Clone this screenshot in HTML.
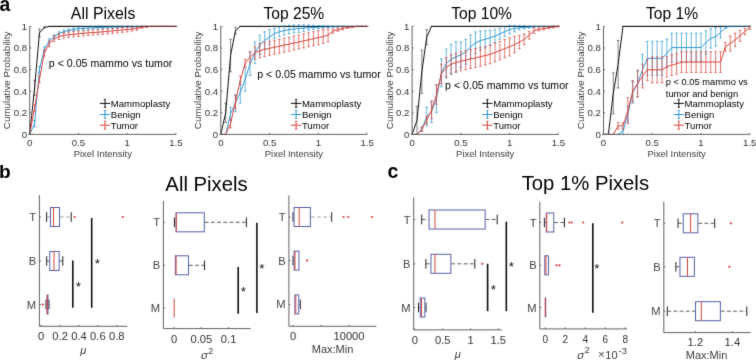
<!DOCTYPE html>
<html><head><meta charset="utf-8"><style>
html,body{margin:0;padding:0;background:#fff;}
svg{display:block;font-family:"Liberation Sans", sans-serif;}
</style></head><body>
<svg width="756" height="360" viewBox="0 0 756 360">
<defs><filter id="bl" x="0" y="0" width="756" height="360" filterUnits="userSpaceOnUse"><feConvolveMatrix order="3" kernelMatrix="0.0094 0.0780 0.0094 0.0780 0.6504 0.0780 0.0094 0.0780 0.0094" edgeMode="none" preserveAlpha="false"/></filter></defs>
<rect width="756" height="360" fill="#fff"/>
<g filter="url(#bl)">
<text x="103.1" y="18.8" font-size="15.9" text-anchor="middle" fill="#000" >All Pixels</text>
<path d="M28.4,134.4 h2.6 M34.58,80.4 V95.52 M33.28,80.4 h2.6 M33.28,95.52 h2.6 M39.45,29.1 V36.66 M38.15,29.1 h2.6 M38.15,36.66 h2.6 M44.33,26.94 V28.02 M43.03,26.94 h2.6 M43.03,28.02 h2.6 M47.9,26.4 h2.6 M52.78,26.4 h2.6 M57.65,26.4 h2.6 M62.53,26.4 h2.6 M67.4,26.4 h2.6 M72.28,26.4 h2.6 M77.15,26.4 h2.6 M82.03,26.4 h2.6 M86.9,26.4 h2.6 M91.78,26.4 h2.6 M96.65,26.4 h2.6 M101.53,26.4 h2.6 M106.4,26.4 h2.6 M111.28,26.4 h2.6 M116.15,26.4 h2.6 M121.03,26.4 h2.6 M125.9,26.4 h2.6 M130.77,26.4 h2.6 M135.65,26.4 h2.6 M140.52,26.4 h2.6 M145.4,26.4 h2.6 M150.27,26.4 h2.6 M155.15,26.4 h2.6 M160.02,26.4 h2.6 M164.9,26.4 h2.6 M169.77,26.4 h2.6 M174.65,26.4 h2.6" stroke="#111111" stroke-width="0.9" fill="none" opacity="0.55"/>
<path d="M29.7,134.4 L34.58,87.96 L39.45,32.88 L44.33,27.48 L49.2,26.4 L54.08,26.4 L58.95,26.4 L63.83,26.4 L68.7,26.4 L73.58,26.4 L78.45,26.4 L83.33,26.4 L88.2,26.4 L93.08,26.4 L97.95,26.4 L102.83,26.4 L107.7,26.4 L112.58,26.4 L117.45,26.4 L122.33,26.4 L127.2,26.4 L132.07,26.4 L136.95,26.4 L141.82,26.4 L146.7,26.4 L151.57,26.4 L156.45,26.4 L161.32,26.4 L166.2,26.4 L171.07,26.4 L175.95,26.4" stroke="#111111" stroke-width="1.0" fill="none" stroke-linejoin="round"/>
<path d="M28.4,134.4 h2.6 M34.58,120.36 V126.84 M33.28,120.36 h2.6 M33.28,126.84 h2.6 M39.45,66.36 V72.84 M38.15,66.36 h2.6 M38.15,72.84 h2.6 M44.33,46.92 V52.32 M43.03,46.92 h2.6 M43.03,52.32 h2.6 M49.2,38.82 V43.14 M47.9,38.82 h2.6 M47.9,43.14 h2.6 M54.08,34.77 V38.55 M52.78,34.77 h2.6 M52.78,38.55 h2.6 M58.95,31.8 V35.04 M57.65,31.8 h2.6 M57.65,35.04 h2.6 M63.83,30.02 V33.15 M62.53,30.02 h2.6 M62.53,33.15 h2.6 M68.7,28.88 V31.91 M67.4,28.88 h2.6 M67.4,31.91 h2.6 M73.58,27.97 V30.88 M72.28,27.97 h2.6 M72.28,30.88 h2.6 M78.45,27.37 V30.18 M77.15,27.37 h2.6 M77.15,30.18 h2.6 M83.33,27.05 V29.75 M82.03,27.05 h2.6 M82.03,29.75 h2.6 M88.2,26.72 V29.32 M86.9,26.72 h2.6 M86.9,29.32 h2.6 M93.08,26.59 V29.02 M91.78,26.59 h2.6 M91.78,29.02 h2.6 M97.95,26.45 V28.72 M96.65,26.45 h2.6 M96.65,28.72 h2.6 M102.83,26.32 V28.43 M101.53,26.32 h2.6 M101.53,28.43 h2.6 M107.7,26.18 V28.13 M106.4,26.18 h2.6 M106.4,28.13 h2.6 M112.58,26.16 V27.94 M111.28,26.16 h2.6 M111.28,27.94 h2.6 M117.45,26.13 V27.75 M116.15,26.13 h2.6 M116.15,27.75 h2.6 M122.33,26.1 V27.56 M121.03,26.1 h2.6 M121.03,27.56 h2.6 M127.2,26.08 V27.37 M125.9,26.08 h2.6 M125.9,27.37 h2.6 M132.07,26.18 V27.16 M130.77,26.18 h2.6 M130.77,27.16 h2.6 M136.95,26.29 V26.94 M135.65,26.29 h2.6 M135.65,26.94 h2.6 M141.82,26.35 V26.67 M140.52,26.35 h2.6 M140.52,26.67 h2.6 M145.4,26.4 h2.6 M150.27,26.4 h2.6 M155.15,26.4 h2.6 M160.02,26.4 h2.6 M164.9,26.4 h2.6 M169.77,26.4 h2.6 M174.65,26.4 h2.6" stroke="#2f98cf" stroke-width="0.9" fill="none" opacity="0.8"/>
<path d="M29.7,134.4 L34.58,123.6 L39.45,69.6 L44.33,49.62 L49.2,40.98 L54.08,36.66 L58.95,33.42 L63.83,31.58 L68.7,30.4 L73.58,29.42 L78.45,28.78 L83.33,28.4 L88.2,28.02 L93.08,27.8 L97.95,27.59 L102.83,27.37 L107.7,27.16 L112.58,27.05 L117.45,26.94 L122.33,26.83 L127.2,26.72 L132.07,26.67 L136.95,26.62 L141.82,26.51 L146.7,26.4 L151.57,26.4 L156.45,26.4 L161.32,26.4 L166.2,26.4 L171.07,26.4 L175.95,26.4" stroke="#2f98cf" stroke-width="1.0" fill="none" stroke-linejoin="round"/>
<path d="M28.4,134.4 h2.6 M34.58,104.7 V111.18 M33.28,104.7 h2.6 M33.28,111.18 h2.6 M39.45,76.08 V82.56 M38.15,76.08 h2.6 M38.15,82.56 h2.6 M44.33,49.62 V56.1 M43.03,49.62 h2.6 M43.03,56.1 h2.6 M49.2,40.76 V46.6 M47.9,40.76 h2.6 M47.9,46.6 h2.6 M54.08,35.96 V41.68 M52.78,35.96 h2.6 M52.78,41.68 h2.6 M58.95,33.85 V39.47 M57.65,33.85 h2.6 M57.65,39.47 h2.6 M63.83,32.59 V38.14 M62.53,32.59 h2.6 M62.53,38.14 h2.6 M68.7,31.97 V37.46 M67.4,31.97 h2.6 M67.4,37.46 h2.6 M73.58,31.46 V36.89 M72.28,31.46 h2.6 M72.28,36.89 h2.6 M78.45,31.06 V36.43 M77.15,31.06 h2.6 M77.15,36.43 h2.6 M83.33,30.66 V35.97 M82.03,30.66 h2.6 M82.03,35.97 h2.6 M88.2,30.26 V35.5 M86.9,30.26 h2.6 M86.9,35.5 h2.6 M93.08,29.96 V35.15 M91.78,29.96 h2.6 M91.78,35.15 h2.6 M97.95,29.67 V34.79 M96.65,29.67 h2.6 M96.65,34.79 h2.6 M102.83,29.27 V34.33 M101.53,29.27 h2.6 M101.53,34.33 h2.6 M107.7,28.87 V33.87 M106.4,28.87 h2.6 M106.4,33.87 h2.6 M112.58,28.47 V33.4 M111.28,28.47 h2.6 M111.28,33.4 h2.6 M117.45,27.96 V32.83 M116.15,27.96 h2.6 M116.15,32.83 h2.6 M122.33,27.56 V32.37 M121.03,27.56 h2.6 M121.03,32.37 h2.6 M127.2,27.16 V31.91 M125.9,27.16 h2.6 M125.9,31.91 h2.6 M132.07,26.99 V30.99 M130.77,26.99 h2.6 M130.77,30.99 h2.6 M136.95,26.94 V30.18 M135.65,26.94 h2.6 M135.65,30.18 h2.6 M141.82,26.08 V28.24 M140.52,26.08 h2.6 M140.52,28.24 h2.6 M146.7,26.18 V27.26 M145.4,26.18 h2.6 M145.4,27.26 h2.6 M150.27,26.4 h2.6 M155.15,26.4 h2.6 M160.02,26.4 h2.6 M164.9,26.4 h2.6 M169.77,26.4 h2.6 M174.65,26.4 h2.6" stroke="#d9443c" stroke-width="0.9" fill="none" opacity="0.8"/>
<path d="M29.7,134.4 L34.58,107.94 L39.45,79.32 L44.33,52.86 L49.2,43.68 L54.08,38.82 L58.95,36.66 L63.83,35.36 L68.7,34.72 L73.58,34.18 L78.45,33.74 L83.33,33.31 L88.2,32.88 L93.08,32.56 L97.95,32.23 L102.83,31.8 L107.7,31.37 L112.58,30.94 L117.45,30.4 L122.33,29.96 L127.2,29.53 L132.07,28.99 L136.95,28.56 L141.82,27.16 L146.7,26.72 L151.57,26.4 L156.45,26.4 L161.32,26.4 L166.2,26.4 L171.07,26.4 L175.95,26.4" stroke="#d9443c" stroke-width="1.0" fill="none" stroke-linejoin="round"/>
<line x1="49.2" y1="26.4" x2="175.95" y2="26.4" stroke="#000" stroke-width="1" opacity="0.45"/>
<line x1="29.7" y1="26.4" x2="29.7" y2="134.4" stroke="#636363" stroke-width="1" />
<line x1="29.7" y1="134.4" x2="175.95" y2="134.4" stroke="#636363" stroke-width="1" />
<line x1="29.7" y1="134.4" x2="31.2" y2="134.4" stroke="#636363" stroke-width="1" />
<text x="27" y="137.8" font-size="9.6" text-anchor="end" fill="#333333" >0</text>
<line x1="29.7" y1="112.8" x2="31.2" y2="112.8" stroke="#636363" stroke-width="1" />
<text x="27" y="116.2" font-size="9.6" text-anchor="end" fill="#333333" >0.2</text>
<line x1="29.7" y1="91.2" x2="31.2" y2="91.2" stroke="#636363" stroke-width="1" />
<text x="27" y="94.6" font-size="9.6" text-anchor="end" fill="#333333" >0.4</text>
<line x1="29.7" y1="69.6" x2="31.2" y2="69.6" stroke="#636363" stroke-width="1" />
<text x="27" y="73" font-size="9.6" text-anchor="end" fill="#333333" >0.6</text>
<line x1="29.7" y1="48" x2="31.2" y2="48" stroke="#636363" stroke-width="1" />
<text x="27" y="51.4" font-size="9.6" text-anchor="end" fill="#333333" >0.8</text>
<line x1="29.7" y1="26.4" x2="31.2" y2="26.4" stroke="#636363" stroke-width="1" />
<text x="27" y="29.8" font-size="9.6" text-anchor="end" fill="#333333" >1</text>
<line x1="29.7" y1="134.4" x2="29.7" y2="132.9" stroke="#636363" stroke-width="1" />
<text x="29.7" y="146.2" font-size="9.6" text-anchor="middle" fill="#333333" >0</text>
<line x1="78.45" y1="134.4" x2="78.45" y2="132.9" stroke="#636363" stroke-width="1" />
<text x="78.45" y="146.2" font-size="9.6" text-anchor="middle" fill="#333333" >0.5</text>
<line x1="127.2" y1="134.4" x2="127.2" y2="132.9" stroke="#636363" stroke-width="1" />
<text x="127.2" y="146.2" font-size="9.6" text-anchor="middle" fill="#333333" >1</text>
<line x1="175.95" y1="134.4" x2="175.95" y2="132.9" stroke="#636363" stroke-width="1" />
<text x="175.95" y="146.2" font-size="9.6" text-anchor="middle" fill="#333333" >1.5</text>
<text x="102.83" y="157.4" font-size="9.45" text-anchor="middle" fill="#3c3c3c" >Pixel Intensity</text>
<text transform="translate(10.2,80.45) rotate(-90)" font-size="9.8" text-anchor="middle" fill="#3c3c3c">Cumulative Probability</text>
<text x="48.8" y="67" font-size="10.62" fill="#000">p &lt; 0.05 mammo vs tumor</text>
<line x1="99.8" y1="103.4" x2="110.2" y2="103.4" stroke="#111111" stroke-width="1" />
<line x1="105" y1="99.4" x2="105" y2="107.4" stroke="#111111" stroke-width="1" />
<line x1="103.8" y1="99.4" x2="106.2" y2="99.4" stroke="#111111" stroke-width="0.8" />
<line x1="103.8" y1="107.4" x2="106.2" y2="107.4" stroke="#111111" stroke-width="0.8" />
<text x="110.8" y="106.8" font-size="9.55" text-anchor="start" fill="#000" >Mammoplasty</text>
<line x1="99.8" y1="114.5" x2="110.2" y2="114.5" stroke="#2f98cf" stroke-width="1" />
<line x1="105" y1="110.5" x2="105" y2="118.5" stroke="#2f98cf" stroke-width="1" />
<line x1="103.8" y1="110.5" x2="106.2" y2="110.5" stroke="#2f98cf" stroke-width="0.8" />
<line x1="103.8" y1="118.5" x2="106.2" y2="118.5" stroke="#2f98cf" stroke-width="0.8" />
<text x="110.8" y="117.9" font-size="9.55" text-anchor="start" fill="#000" >Benign</text>
<line x1="99.8" y1="125.2" x2="110.2" y2="125.2" stroke="#d9443c" stroke-width="1" />
<line x1="105" y1="121.2" x2="105" y2="129.2" stroke="#d9443c" stroke-width="1" />
<line x1="103.8" y1="121.2" x2="106.2" y2="121.2" stroke="#d9443c" stroke-width="0.8" />
<line x1="103.8" y1="129.2" x2="106.2" y2="129.2" stroke="#d9443c" stroke-width="0.8" />
<text x="110.8" y="128.6" font-size="9.55" text-anchor="start" fill="#000" >Tumor</text>
<text x="293.85" y="18.8" font-size="15.65" text-anchor="middle" fill="#000" >Top 25%</text>
<path d="M219.5,134.4 h2.6 M225.68,103.08 V122.52 M224.38,103.08 h2.6 M224.38,122.52 h2.6 M230.55,39.36 V71.76 M229.25,39.36 h2.6 M229.25,71.76 h2.6 M235.43,27.48 V33.96 M234.12,27.48 h2.6 M234.12,33.96 h2.6 M239,26.4 h2.6 M243.88,26.4 h2.6 M248.75,26.4 h2.6 M253.62,26.4 h2.6 M258.5,26.4 h2.6 M263.38,26.4 h2.6 M268.25,26.4 h2.6 M273.12,26.4 h2.6 M278,26.4 h2.6 M282.88,26.4 h2.6 M287.75,26.4 h2.6 M292.62,26.4 h2.6 M297.5,26.4 h2.6 M302.38,26.4 h2.6 M307.25,26.4 h2.6 M312.12,26.4 h2.6 M317,26.4 h2.6 M321.88,26.4 h2.6 M326.75,26.4 h2.6 M331.62,26.4 h2.6 M336.5,26.4 h2.6 M341.38,26.4 h2.6 M346.25,26.4 h2.6 M351.12,26.4 h2.6 M356,26.4 h2.6 M360.88,26.4 h2.6 M365.75,26.4 h2.6" stroke="#111111" stroke-width="0.9" fill="none" opacity="0.55"/>
<path d="M220.8,134.4 L225.68,112.8 L230.55,55.56 L235.43,30.72 L240.3,26.4 L245.18,26.4 L250.05,26.4 L254.93,26.4 L259.8,26.4 L264.68,26.4 L269.55,26.4 L274.43,26.4 L279.3,26.4 L284.18,26.4 L289.05,26.4 L293.93,26.4 L298.8,26.4 L303.68,26.4 L308.55,26.4 L313.43,26.4 L318.3,26.4 L323.18,26.4 L328.05,26.4 L332.93,26.4 L337.8,26.4 L342.68,26.4 L347.55,26.4 L352.43,26.4 L357.3,26.4 L362.18,26.4 L367.05,26.4" stroke="#111111" stroke-width="1.0" fill="none" stroke-linejoin="round"/>
<path d="M219.5,134.4 h2.6 M224.38,134.4 h2.6 M230.55,107.4 V120.36 M229.25,107.4 h2.6 M229.25,120.36 h2.6 M235.43,94.44 V111.72 M234.12,94.44 h2.6 M234.12,111.72 h2.6 M240.3,81.48 V103.08 M239,81.48 h2.6 M239,103.08 h2.6 M245.18,67.44 V91.2 M243.88,67.44 h2.6 M243.88,91.2 h2.6 M250.05,51.78 V75.54 M248.75,51.78 h2.6 M248.75,75.54 h2.6 M254.93,42.06 V63.66 M253.62,42.06 h2.6 M253.62,63.66 h2.6 M259.8,35.04 V54.48 M258.5,35.04 h2.6 M258.5,54.48 h2.6 M264.68,31.8 V49.08 M263.38,31.8 h2.6 M263.38,49.08 h2.6 M269.55,29.64 V44.76 M268.25,29.64 h2.6 M268.25,44.76 h2.6 M274.43,28.56 V38.28 M273.12,28.56 h2.6 M273.12,38.28 h2.6 M279.3,26.94 V36.66 M278,26.94 h2.6 M278,36.66 h2.6 M284.18,25.91 V35.09 M282.88,25.91 h2.6 M282.88,35.09 h2.6 M289.05,25.32 V33.96 M287.75,25.32 h2.6 M287.75,33.96 h2.6 M293.93,24.94 V33.04 M292.62,24.94 h2.6 M292.62,33.04 h2.6 M298.8,24.78 V32.34 M297.5,24.78 h2.6 M297.5,32.34 h2.6 M303.68,24.89 V31.37 M302.38,24.89 h2.6 M302.38,31.37 h2.6 M308.55,25 V30.4 M307.25,25 h2.6 M307.25,30.4 h2.6 M313.43,25.32 V29.64 M312.12,25.32 h2.6 M312.12,29.64 h2.6 M318.3,25.54 V28.78 M317,25.54 h2.6 M317,28.78 h2.6 M323.18,25.7 V28.18 M321.88,25.7 h2.6 M321.88,28.18 h2.6 M328.05,25.86 V27.59 M326.75,25.86 h2.6 M326.75,27.59 h2.6 M332.93,26.02 V27.21 M331.62,26.02 h2.6 M331.62,27.21 h2.6 M337.8,26.18 V26.83 M336.5,26.18 h2.6 M336.5,26.83 h2.6 M341.38,26.4 h2.6 M346.25,26.4 h2.6 M351.12,26.4 h2.6 M356,26.4 h2.6 M360.88,26.4 h2.6 M365.75,26.4 h2.6" stroke="#2f98cf" stroke-width="0.9" fill="none" opacity="0.8"/>
<path d="M220.8,134.4 L225.68,134.4 L230.55,113.88 L235.43,103.08 L240.3,92.28 L245.18,79.32 L250.05,63.66 L254.93,52.86 L259.8,44.76 L264.68,40.44 L269.55,37.2 L274.43,33.42 L279.3,31.8 L284.18,30.5 L289.05,29.64 L293.93,28.99 L298.8,28.56 L303.68,28.13 L308.55,27.7 L313.43,27.48 L318.3,27.16 L323.18,26.94 L328.05,26.72 L332.93,26.62 L337.8,26.51 L342.68,26.4 L347.55,26.4 L352.43,26.4 L357.3,26.4 L362.18,26.4 L367.05,26.4" stroke="#2f98cf" stroke-width="1.0" fill="none" stroke-linejoin="round"/>
<path d="M219.5,134.4 h2.6 M224.38,134.4 h2.6 M230.55,119.28 V127.92 M229.25,119.28 h2.6 M229.25,127.92 h2.6 M235.43,95.52 V108.48 M234.12,95.52 h2.6 M234.12,108.48 h2.6 M240.3,76.08 V84.72 M239,76.08 h2.6 M239,84.72 h2.6 M245.18,59.34 V66.9 M243.88,59.34 h2.6 M243.88,66.9 h2.6 M250.05,51.78 V62.58 M248.75,51.78 h2.6 M248.75,62.58 h2.6 M254.93,46.65 V59.07 M253.62,46.65 h2.6 M253.62,59.07 h2.6 M259.8,43.68 V57.72 M258.5,43.68 h2.6 M258.5,57.72 h2.6 M264.68,42.38 V56.42 M263.38,42.38 h2.6 M263.38,56.42 h2.6 M269.55,41.3 V55.34 M268.25,41.3 h2.6 M268.25,55.34 h2.6 M274.43,40.22 V54.26 M273.12,40.22 h2.6 M273.12,54.26 h2.6 M279.3,39.25 V53.29 M278,39.25 h2.6 M278,53.29 h2.6 M284.18,38.17 V52.21 M282.88,38.17 h2.6 M282.88,52.21 h2.6 M289.05,37.09 V51.13 M287.75,37.09 h2.6 M287.75,51.13 h2.6 M293.93,36.01 V50.05 M292.62,36.01 h2.6 M292.62,50.05 h2.6 M298.8,34.93 V48.97 M297.5,34.93 h2.6 M297.5,48.97 h2.6 M303.68,33.85 V47.89 M302.38,33.85 h2.6 M302.38,47.89 h2.6 M308.55,32.77 V46.81 M307.25,32.77 h2.6 M307.25,46.81 h2.6 M313.43,31.69 V45.73 M312.12,31.69 h2.6 M312.12,45.73 h2.6 M318.3,30.61 V44.65 M317,30.61 h2.6 M317,44.65 h2.6 M323.18,29.8 V43.3 M321.88,29.8 h2.6 M321.88,43.3 h2.6 M328.05,28.88 V41.84 M326.75,28.88 h2.6 M326.75,41.84 h2.6 M332.93,28.88 V33.2 M331.62,28.88 h2.6 M331.62,33.2 h2.6 M337.8,27.91 V31.37 M336.5,27.91 h2.6 M336.5,31.37 h2.6 M342.68,27.26 V29.86 M341.38,27.26 h2.6 M341.38,29.86 h2.6 M347.55,26.62 V28.34 M346.25,26.62 h2.6 M346.25,28.34 h2.6 M352.43,26.51 V27.37 M351.12,26.51 h2.6 M351.12,27.37 h2.6 M356,26.4 h2.6 M360.88,26.4 h2.6 M365.75,26.4 h2.6" stroke="#d9443c" stroke-width="0.9" fill="none" opacity="0.8"/>
<path d="M220.8,134.4 L225.68,134.4 L230.55,123.6 L235.43,102 L240.3,80.4 L245.18,63.12 L250.05,57.18 L254.93,52.86 L259.8,50.7 L264.68,49.4 L269.55,48.32 L274.43,47.24 L279.3,46.27 L284.18,45.19 L289.05,44.11 L293.93,43.03 L298.8,41.95 L303.68,40.87 L308.55,39.79 L313.43,38.71 L318.3,37.63 L323.18,36.55 L328.05,35.36 L332.93,31.04 L337.8,29.64 L342.68,28.56 L347.55,27.48 L352.43,26.94 L357.3,26.4 L362.18,26.4 L367.05,26.4" stroke="#d9443c" stroke-width="1.0" fill="none" stroke-linejoin="round"/>
<line x1="240.3" y1="26.4" x2="367.05" y2="26.4" stroke="#000" stroke-width="1" opacity="0.45"/>
<line x1="220.8" y1="26.4" x2="220.8" y2="134.4" stroke="#636363" stroke-width="1" />
<line x1="220.8" y1="134.4" x2="367.05" y2="134.4" stroke="#636363" stroke-width="1" />
<line x1="220.8" y1="134.4" x2="222.3" y2="134.4" stroke="#636363" stroke-width="1" />
<text x="218.1" y="137.8" font-size="9.6" text-anchor="end" fill="#333333" >0</text>
<line x1="220.8" y1="112.8" x2="222.3" y2="112.8" stroke="#636363" stroke-width="1" />
<text x="218.1" y="116.2" font-size="9.6" text-anchor="end" fill="#333333" >0.2</text>
<line x1="220.8" y1="91.2" x2="222.3" y2="91.2" stroke="#636363" stroke-width="1" />
<text x="218.1" y="94.6" font-size="9.6" text-anchor="end" fill="#333333" >0.4</text>
<line x1="220.8" y1="69.6" x2="222.3" y2="69.6" stroke="#636363" stroke-width="1" />
<text x="218.1" y="73" font-size="9.6" text-anchor="end" fill="#333333" >0.6</text>
<line x1="220.8" y1="48" x2="222.3" y2="48" stroke="#636363" stroke-width="1" />
<text x="218.1" y="51.4" font-size="9.6" text-anchor="end" fill="#333333" >0.8</text>
<line x1="220.8" y1="26.4" x2="222.3" y2="26.4" stroke="#636363" stroke-width="1" />
<text x="218.1" y="29.8" font-size="9.6" text-anchor="end" fill="#333333" >1</text>
<line x1="220.8" y1="134.4" x2="220.8" y2="132.9" stroke="#636363" stroke-width="1" />
<text x="220.8" y="146.2" font-size="9.6" text-anchor="middle" fill="#333333" >0</text>
<line x1="269.55" y1="134.4" x2="269.55" y2="132.9" stroke="#636363" stroke-width="1" />
<text x="269.55" y="146.2" font-size="9.6" text-anchor="middle" fill="#333333" >0.5</text>
<line x1="318.3" y1="134.4" x2="318.3" y2="132.9" stroke="#636363" stroke-width="1" />
<text x="318.3" y="146.2" font-size="9.6" text-anchor="middle" fill="#333333" >1</text>
<line x1="367.05" y1="134.4" x2="367.05" y2="132.9" stroke="#636363" stroke-width="1" />
<text x="367.05" y="146.2" font-size="9.6" text-anchor="middle" fill="#333333" >1.5</text>
<text x="293.93" y="157.4" font-size="9.45" text-anchor="middle" fill="#3c3c3c" >Pixel Intensity</text>
<text transform="translate(201.3,80.45) rotate(-90)" font-size="9.8" text-anchor="middle" fill="#3c3c3c">Cumulative Probability</text>
<text x="257.2" y="77.7" font-size="10.62" fill="#000">p &lt; 0.05 mammo vs tumor</text>
<line x1="290.9" y1="103.4" x2="301.3" y2="103.4" stroke="#111111" stroke-width="1" />
<line x1="296.1" y1="99.4" x2="296.1" y2="107.4" stroke="#111111" stroke-width="1" />
<line x1="294.9" y1="99.4" x2="297.3" y2="99.4" stroke="#111111" stroke-width="0.8" />
<line x1="294.9" y1="107.4" x2="297.3" y2="107.4" stroke="#111111" stroke-width="0.8" />
<text x="301.9" y="106.8" font-size="9.55" text-anchor="start" fill="#000" >Mammoplasty</text>
<line x1="290.9" y1="114.5" x2="301.3" y2="114.5" stroke="#2f98cf" stroke-width="1" />
<line x1="296.1" y1="110.5" x2="296.1" y2="118.5" stroke="#2f98cf" stroke-width="1" />
<line x1="294.9" y1="110.5" x2="297.3" y2="110.5" stroke="#2f98cf" stroke-width="0.8" />
<line x1="294.9" y1="118.5" x2="297.3" y2="118.5" stroke="#2f98cf" stroke-width="0.8" />
<text x="301.9" y="117.9" font-size="9.55" text-anchor="start" fill="#000" >Benign</text>
<line x1="290.9" y1="125.2" x2="301.3" y2="125.2" stroke="#d9443c" stroke-width="1" />
<line x1="296.1" y1="121.2" x2="296.1" y2="129.2" stroke="#d9443c" stroke-width="1" />
<line x1="294.9" y1="121.2" x2="297.3" y2="121.2" stroke="#d9443c" stroke-width="0.8" />
<line x1="294.9" y1="129.2" x2="297.3" y2="129.2" stroke="#d9443c" stroke-width="0.8" />
<text x="301.9" y="128.6" font-size="9.55" text-anchor="start" fill="#000" >Tumor</text>
<text x="481.65" y="18.8" font-size="15.6" text-anchor="middle" fill="#000" >Top 10%</text>
<path d="M410.8,134.4 h2.6 M416.98,106.32 V134.4 M415.68,106.32 h2.6 M415.68,134.4 h2.6 M421.85,50.16 V93.36 M420.55,50.16 h2.6 M420.55,93.36 h2.6 M426.73,29.64 V44.76 M425.43,29.64 h2.6 M425.43,44.76 h2.6 M430.3,26.4 h2.6 M435.18,26.4 h2.6 M440.05,26.4 h2.6 M444.93,26.4 h2.6 M449.8,26.4 h2.6 M454.68,26.4 h2.6 M459.55,26.4 h2.6 M464.43,26.4 h2.6 M469.3,26.4 h2.6 M474.18,26.4 h2.6 M479.05,26.4 h2.6 M483.93,26.4 h2.6 M488.8,26.4 h2.6 M493.68,26.4 h2.6 M498.55,26.4 h2.6 M503.43,26.4 h2.6 M508.3,26.4 h2.6 M513.18,26.4 h2.6 M518.05,26.4 h2.6 M522.93,26.4 h2.6 M527.8,26.4 h2.6 M532.68,26.4 h2.6 M537.55,26.4 h2.6 M542.43,26.4 h2.6 M547.3,26.4 h2.6 M552.18,26.4 h2.6 M557.05,26.4 h2.6" stroke="#111111" stroke-width="0.9" fill="none" opacity="0.55"/>
<path d="M412.1,134.4 L416.98,120.36 L421.85,71.76 L426.73,37.2 L431.6,26.4 L436.48,26.4 L441.35,26.4 L446.23,26.4 L451.1,26.4 L455.98,26.4 L460.85,26.4 L465.73,26.4 L470.6,26.4 L475.48,26.4 L480.35,26.4 L485.23,26.4 L490.1,26.4 L494.98,26.4 L499.85,26.4 L504.73,26.4 L509.6,26.4 L514.48,26.4 L519.35,26.4 L524.23,26.4 L529.1,26.4 L533.98,26.4 L538.85,26.4 L543.73,26.4 L548.6,26.4 L553.48,26.4 L558.35,26.4" stroke="#111111" stroke-width="1.0" fill="none" stroke-linejoin="round"/>
<path d="M410.8,134.4 h2.6 M415.68,134.4 h2.6 M421.85,126.84 V131.16 M420.55,126.84 h2.6 M420.55,131.16 h2.6 M426.73,107.4 V125.76 M425.43,107.4 h2.6 M425.43,125.76 h2.6 M431.6,100.92 V122.52 M430.3,100.92 h2.6 M430.3,122.52 h2.6 M436.48,84.72 V112.8 M435.18,84.72 h2.6 M435.18,112.8 h2.6 M441.35,58.8 V86.88 M440.05,58.8 h2.6 M440.05,86.88 h2.6 M446.23,49.04 V77.84 M444.93,49.04 h2.6 M444.93,77.84 h2.6 M451.1,44.58 V74.1 M449.8,44.58 h2.6 M449.8,74.1 h2.6 M455.98,41.63 V71.87 M454.68,41.63 h2.6 M454.68,71.87 h2.6 M460.85,42.06 V67.98 M459.55,42.06 h2.6 M459.55,67.98 h2.6 M465.73,39.36 V64.2 M464.43,39.36 h2.6 M464.43,64.2 h2.6 M470.6,34.93 V58.69 M469.3,34.93 h2.6 M469.3,58.69 h2.6 M475.48,31.91 V53.51 M474.18,31.91 h2.6 M474.18,53.51 h2.6 M480.35,30.94 V50.38 M479.05,30.94 h2.6 M479.05,50.38 h2.6 M485.23,30.61 V47.89 M483.93,30.61 h2.6 M483.93,47.89 h2.6 M490.1,30.18 V45.3 M488.8,30.18 h2.6 M488.8,45.3 h2.6 M494.98,29.64 V42.6 M493.68,29.64 h2.6 M493.68,42.6 h2.6 M499.85,28.45 V39.25 M498.55,28.45 h2.6 M498.55,39.25 h2.6 M504.73,26.72 V36.44 M503.43,26.72 h2.6 M503.43,36.44 h2.6 M509.6,25.32 V33.96 M508.3,25.32 h2.6 M508.3,33.96 h2.6 M514.48,25.32 V31.8 M513.18,25.32 h2.6 M513.18,31.8 h2.6 M519.35,25.54 V29.86 M518.05,25.54 h2.6 M518.05,29.86 h2.6 M524.23,25.75 V28.99 M522.93,25.75 h2.6 M522.93,28.99 h2.6 M529.1,25.97 V28.13 M527.8,25.97 h2.6 M527.8,28.13 h2.6 M533.98,26.18 V27.26 M532.68,26.18 h2.6 M532.68,27.26 h2.6 M537.55,26.4 h2.6 M542.43,26.4 h2.6 M547.3,26.4 h2.6 M552.18,26.4 h2.6 M557.05,26.4 h2.6" stroke="#2f98cf" stroke-width="0.9" fill="none" opacity="0.8"/>
<path d="M412.1,134.4 L416.98,134.4 L421.85,129 L426.73,116.58 L431.6,111.72 L436.48,98.76 L441.35,72.84 L446.23,63.44 L451.1,59.34 L455.98,56.75 L460.85,55.02 L465.73,51.78 L470.6,46.81 L475.48,42.71 L480.35,40.66 L485.23,39.25 L490.1,37.74 L494.98,36.12 L499.85,33.85 L504.73,31.58 L509.6,29.64 L514.48,28.56 L519.35,27.7 L524.23,27.37 L529.1,27.05 L533.98,26.72 L538.85,26.4 L543.73,26.4 L548.6,26.4 L553.48,26.4 L558.35,26.4" stroke="#2f98cf" stroke-width="1.0" fill="none" stroke-linejoin="round"/>
<path d="M410.8,134.4 h2.6 M415.68,134.4 h2.6 M421.85,127.16 V131.48 M420.55,127.16 h2.6 M420.55,131.48 h2.6 M426.73,116.26 V123.82 M425.43,116.26 h2.6 M425.43,123.82 h2.6 M431.6,101.46 V118.74 M430.3,101.46 h2.6 M430.3,118.74 h2.6 M436.48,84.72 V104.16 M435.18,84.72 h2.6 M435.18,104.16 h2.6 M441.35,64.2 V83.64 M440.05,64.2 h2.6 M440.05,83.64 h2.6 M446.23,57.76 V77.12 M444.93,57.76 h2.6 M444.93,77.12 h2.6 M451.1,54.67 V73.95 M449.8,54.67 h2.6 M449.8,73.95 h2.6 M455.98,52.98 V72.18 M454.68,52.98 h2.6 M454.68,72.18 h2.6 M460.85,51.72 V70.85 M459.55,51.72 h2.6 M459.55,70.85 h2.6 M465.73,50.57 V69.62 M464.43,50.57 h2.6 M464.43,69.62 h2.6 M470.6,49.53 V68.5 M469.3,49.53 h2.6 M469.3,68.5 h2.6 M475.48,48.49 V67.39 M474.18,48.49 h2.6 M474.18,67.39 h2.6 M480.35,47.34 V66.16 M479.05,47.34 h2.6 M479.05,66.16 h2.6 M485.23,46.19 V64.93 M483.93,46.19 h2.6 M483.93,64.93 h2.6 M490.1,45.15 V63.81 M488.8,45.15 h2.6 M488.8,63.81 h2.6 M494.98,43.24 V61.83 M493.68,43.24 h2.6 M493.68,61.83 h2.6 M499.85,41.33 V59.85 M498.55,41.33 h2.6 M498.55,59.85 h2.6 M504.73,39.43 V57.87 M503.43,39.43 h2.6 M503.43,57.87 h2.6 M509.6,37.63 V55.99 M508.3,37.63 h2.6 M508.3,55.99 h2.6 M514.48,36.44 V52.64 M513.18,36.44 h2.6 M513.18,52.64 h2.6 M519.35,35.69 V48.65 M518.05,35.69 h2.6 M518.05,48.65 h2.6 M524.23,33.85 V44.65 M522.93,33.85 h2.6 M522.93,44.65 h2.6 M529.1,31.58 V39.14 M527.8,31.58 h2.6 M527.8,39.14 h2.6 M533.98,28.02 V33.42 M532.68,28.02 h2.6 M532.68,33.42 h2.6 M538.85,27.7 V30.94 M537.55,27.7 h2.6 M537.55,30.94 h2.6 M543.73,27.21 V29.91 M542.43,27.21 h2.6 M542.43,29.91 h2.6 M548.6,26.62 V28.78 M547.3,26.62 h2.6 M547.3,28.78 h2.6 M553.48,26.24 V27.86 M552.18,26.24 h2.6 M552.18,27.86 h2.6 M558.35,25.86 V26.94 M557.05,25.86 h2.6 M557.05,26.94 h2.6" stroke="#d9443c" stroke-width="0.9" fill="none" opacity="0.8"/>
<path d="M412.1,134.4 L416.98,134.4 L421.85,129.32 L426.73,120.04 L431.6,110.1 L436.48,94.44 L441.35,73.92 L446.23,67.44 L451.1,64.31 L455.98,62.58 L460.85,61.28 L465.73,60.1 L470.6,59.02 L475.48,57.94 L480.35,56.75 L485.23,55.56 L490.1,54.48 L494.98,52.54 L499.85,50.59 L504.73,48.65 L509.6,46.81 L514.48,44.54 L519.35,42.17 L524.23,39.25 L529.1,35.36 L533.98,30.72 L538.85,29.32 L543.73,28.56 L548.6,27.7 L553.48,27.05 L558.35,26.4" stroke="#d9443c" stroke-width="1.0" fill="none" stroke-linejoin="round"/>
<line x1="431.6" y1="26.4" x2="558.35" y2="26.4" stroke="#000" stroke-width="1" opacity="0.45"/>
<line x1="412.1" y1="26.4" x2="412.1" y2="134.4" stroke="#636363" stroke-width="1" />
<line x1="412.1" y1="134.4" x2="558.35" y2="134.4" stroke="#636363" stroke-width="1" />
<line x1="412.1" y1="134.4" x2="413.6" y2="134.4" stroke="#636363" stroke-width="1" />
<text x="409.4" y="137.8" font-size="9.6" text-anchor="end" fill="#333333" >0</text>
<line x1="412.1" y1="112.8" x2="413.6" y2="112.8" stroke="#636363" stroke-width="1" />
<text x="409.4" y="116.2" font-size="9.6" text-anchor="end" fill="#333333" >0.2</text>
<line x1="412.1" y1="91.2" x2="413.6" y2="91.2" stroke="#636363" stroke-width="1" />
<text x="409.4" y="94.6" font-size="9.6" text-anchor="end" fill="#333333" >0.4</text>
<line x1="412.1" y1="69.6" x2="413.6" y2="69.6" stroke="#636363" stroke-width="1" />
<text x="409.4" y="73" font-size="9.6" text-anchor="end" fill="#333333" >0.6</text>
<line x1="412.1" y1="48" x2="413.6" y2="48" stroke="#636363" stroke-width="1" />
<text x="409.4" y="51.4" font-size="9.6" text-anchor="end" fill="#333333" >0.8</text>
<line x1="412.1" y1="26.4" x2="413.6" y2="26.4" stroke="#636363" stroke-width="1" />
<text x="409.4" y="29.8" font-size="9.6" text-anchor="end" fill="#333333" >1</text>
<line x1="412.1" y1="134.4" x2="412.1" y2="132.9" stroke="#636363" stroke-width="1" />
<text x="412.1" y="146.2" font-size="9.6" text-anchor="middle" fill="#333333" >0</text>
<line x1="460.85" y1="134.4" x2="460.85" y2="132.9" stroke="#636363" stroke-width="1" />
<text x="460.85" y="146.2" font-size="9.6" text-anchor="middle" fill="#333333" >0.5</text>
<line x1="509.6" y1="134.4" x2="509.6" y2="132.9" stroke="#636363" stroke-width="1" />
<text x="509.6" y="146.2" font-size="9.6" text-anchor="middle" fill="#333333" >1</text>
<line x1="558.35" y1="134.4" x2="558.35" y2="132.9" stroke="#636363" stroke-width="1" />
<text x="558.35" y="146.2" font-size="9.6" text-anchor="middle" fill="#333333" >1.5</text>
<text x="485.23" y="157.4" font-size="9.45" text-anchor="middle" fill="#3c3c3c" >Pixel Intensity</text>
<text transform="translate(392.6,80.45) rotate(-90)" font-size="9.8" text-anchor="middle" fill="#3c3c3c">Cumulative Probability</text>
<text x="445.05" y="88.9" font-size="10.62" fill="#000">p &lt; 0.05 mammo vs tumor</text>
<line x1="482.2" y1="103.4" x2="492.6" y2="103.4" stroke="#111111" stroke-width="1" />
<line x1="487.4" y1="99.4" x2="487.4" y2="107.4" stroke="#111111" stroke-width="1" />
<line x1="486.2" y1="99.4" x2="488.6" y2="99.4" stroke="#111111" stroke-width="0.8" />
<line x1="486.2" y1="107.4" x2="488.6" y2="107.4" stroke="#111111" stroke-width="0.8" />
<text x="493.2" y="106.8" font-size="9.55" text-anchor="start" fill="#000" >Mammoplasty</text>
<line x1="482.2" y1="114.5" x2="492.6" y2="114.5" stroke="#2f98cf" stroke-width="1" />
<line x1="487.4" y1="110.5" x2="487.4" y2="118.5" stroke="#2f98cf" stroke-width="1" />
<line x1="486.2" y1="110.5" x2="488.6" y2="110.5" stroke="#2f98cf" stroke-width="0.8" />
<line x1="486.2" y1="118.5" x2="488.6" y2="118.5" stroke="#2f98cf" stroke-width="0.8" />
<text x="493.2" y="117.9" font-size="9.55" text-anchor="start" fill="#000" >Benign</text>
<line x1="482.2" y1="125.2" x2="492.6" y2="125.2" stroke="#d9443c" stroke-width="1" />
<line x1="487.4" y1="121.2" x2="487.4" y2="129.2" stroke="#d9443c" stroke-width="1" />
<line x1="486.2" y1="121.2" x2="488.6" y2="121.2" stroke="#d9443c" stroke-width="0.8" />
<line x1="486.2" y1="129.2" x2="488.6" y2="129.2" stroke="#d9443c" stroke-width="0.8" />
<text x="493.2" y="128.6" font-size="9.55" text-anchor="start" fill="#000" >Tumor</text>
<text x="672.1" y="18.8" font-size="15.6" text-anchor="middle" fill="#000" >Top 1%</text>
<path d="M602.2,134.4 h2.6 M607.08,134.4 h2.6 M613.25,72.84 V113.88 M611.95,72.84 h2.6 M611.95,113.88 h2.6 M618.12,40.44 V87.96 M616.83,40.44 h2.6 M616.83,87.96 h2.6 M621.7,26.4 h2.6 M626.58,26.4 h2.6 M631.45,26.4 h2.6 M636.33,26.4 h2.6 M641.2,26.4 h2.6 M646.08,26.4 h2.6 M650.95,26.4 h2.6 M655.83,26.4 h2.6 M660.7,26.4 h2.6 M665.58,26.4 h2.6 M670.45,26.4 h2.6 M675.33,26.4 h2.6 M680.2,26.4 h2.6 M685.08,26.4 h2.6 M689.95,26.4 h2.6 M694.83,26.4 h2.6 M699.7,26.4 h2.6 M704.58,26.4 h2.6 M709.45,26.4 h2.6 M714.33,26.4 h2.6 M719.2,26.4 h2.6 M724.08,26.4 h2.6 M728.95,26.4 h2.6 M733.83,26.4 h2.6 M738.7,26.4 h2.6 M743.58,26.4 h2.6 M748.45,26.4 h2.6" stroke="#111111" stroke-width="0.9" fill="none" opacity="0.55"/>
<path d="M603.5,134.4 L608.38,134.4 L613.25,93.36 L618.12,64.2 L623,26.4 L627.88,26.4 L632.75,26.4 L637.62,26.4 L642.5,26.4 L647.38,26.4 L652.25,26.4 L657.12,26.4 L662,26.4 L666.88,26.4 L671.75,26.4 L676.62,26.4 L681.5,26.4 L686.38,26.4 L691.25,26.4 L696.12,26.4 L701,26.4 L705.88,26.4 L710.75,26.4 L715.62,26.4 L720.5,26.4 L725.38,26.4 L730.25,26.4 L735.12,26.4 L740,26.4 L744.88,26.4 L749.75,26.4" stroke="#111111" stroke-width="1.0" fill="none" stroke-linejoin="round"/>
<path d="M602.2,134.4 h2.6 M607.08,134.4 h2.6 M611.95,134.4 h2.6 M616.83,134.4 h2.6 M623,127.92 V134.4 M621.7,127.92 h2.6 M621.7,134.4 h2.6 M627.88,105.78 V121.98 M626.58,105.78 h2.6 M626.58,121.98 h2.6 M632.75,81.48 V103.08 M631.45,81.48 h2.6 M631.45,103.08 h2.6 M637.62,70.68 V96.6 M636.33,70.68 h2.6 M636.33,96.6 h2.6 M642.5,54.48 V84.72 M641.2,54.48 h2.6 M641.2,84.72 h2.6 M647.38,41.3 V75.43 M646.08,41.3 h2.6 M646.08,75.43 h2.6 M652.25,41.3 V75.43 M650.95,41.3 h2.6 M650.95,75.43 h2.6 M657.12,41.3 V75.43 M655.83,41.3 h2.6 M655.83,75.43 h2.6 M662,41.3 V75.43 M660.7,41.3 h2.6 M660.7,75.43 h2.6 M666.88,39.04 V67.76 M665.58,39.04 h2.6 M665.58,67.76 h2.6 M671.75,33.2 V61.93 M670.45,33.2 h2.6 M670.45,61.93 h2.6 M676.62,33.2 V61.93 M675.33,33.2 h2.6 M675.33,61.93 h2.6 M681.5,33.2 V61.93 M680.2,33.2 h2.6 M680.2,61.93 h2.6 M686.38,33.2 V61.93 M685.08,33.2 h2.6 M685.08,61.93 h2.6 M691.25,33.2 V61.93 M689.95,33.2 h2.6 M689.95,61.93 h2.6 M696.12,33.2 V61.93 M694.83,33.2 h2.6 M694.83,61.93 h2.6 M701,33.2 V61.93 M699.7,33.2 h2.6 M699.7,61.93 h2.6 M705.88,30.72 V54.48 M704.58,30.72 h2.6 M704.58,54.48 h2.6 M710.75,28.67 V48.11 M709.45,28.67 h2.6 M709.45,48.11 h2.6 M715.62,27.59 V45.95 M714.33,27.59 h2.6 M714.33,45.95 h2.6 M720.5,27.16 V37.96 M719.2,27.16 h2.6 M719.2,37.96 h2.6 M725.38,26.4 V28.56 M724.08,26.4 h2.6 M724.08,28.56 h2.6 M728.95,26.4 h2.6 M733.83,26.4 h2.6 M738.7,26.4 h2.6 M743.58,26.4 h2.6 M748.45,26.4 h2.6" stroke="#2f98cf" stroke-width="0.9" fill="none" opacity="0.8"/>
<path d="M603.5,134.4 L608.38,134.4 L613.25,134.4 L618.12,134.4 L623,131.16 L627.88,113.88 L632.75,92.28 L637.62,83.64 L642.5,69.6 L647.38,58.37 L652.25,58.37 L657.12,58.37 L662,58.37 L666.88,53.4 L671.75,47.57 L676.62,47.57 L681.5,47.57 L686.38,47.57 L691.25,47.57 L696.12,47.57 L701,47.57 L705.88,42.6 L710.75,38.39 L715.62,36.77 L720.5,32.56 L725.38,27.48 L730.25,26.4 L735.12,26.4 L740,26.4 L744.88,26.4 L749.75,26.4" stroke="#2f98cf" stroke-width="1.0" fill="none" stroke-linejoin="round"/>
<path d="M602.2,134.4 h2.6 M607.08,134.4 h2.6 M611.95,134.4 h2.6 M618.12,122.63 V129.11 M616.83,122.63 h2.6 M616.83,129.11 h2.6 M623,122.63 V129.11 M621.7,122.63 h2.6 M621.7,129.11 h2.6 M627.88,97.68 V123.6 M626.58,97.68 h2.6 M626.58,123.6 h2.6 M632.75,80.4 V102 M631.45,80.4 h2.6 M631.45,102 h2.6 M637.62,70.14 V97.14 M636.33,70.14 h2.6 M636.33,97.14 h2.6 M642.5,64.2 V87.96 M641.2,64.2 h2.6 M641.2,87.96 h2.6 M647.38,59.02 V80.62 M646.08,59.02 h2.6 M646.08,80.62 h2.6 M652.25,56.86 V82.78 M650.95,56.86 h2.6 M650.95,82.78 h2.6 M657.12,56.86 V82.78 M655.83,56.86 h2.6 M655.83,82.78 h2.6 M662,56.86 V82.78 M660.7,56.86 h2.6 M660.7,82.78 h2.6 M666.88,56.42 V77.16 M665.58,56.42 h2.6 M665.58,77.16 h2.6 M671.75,54.7 V75.43 M670.45,54.7 h2.6 M670.45,75.43 h2.6 M676.62,53.4 V74.14 M675.33,53.4 h2.6 M675.33,74.14 h2.6 M681.5,51.67 V72.41 M680.2,51.67 h2.6 M680.2,72.41 h2.6 M686.38,51.67 V72.41 M685.08,51.67 h2.6 M685.08,72.41 h2.6 M691.25,51.67 V72.41 M689.95,51.67 h2.6 M689.95,72.41 h2.6 M696.12,51.67 V72.41 M694.83,51.67 h2.6 M694.83,72.41 h2.6 M701,51.67 V72.41 M699.7,51.67 h2.6 M699.7,72.41 h2.6 M705.88,51.67 V72.41 M704.58,51.67 h2.6 M704.58,72.41 h2.6 M710.75,51.67 V72.41 M709.45,51.67 h2.6 M709.45,72.41 h2.6 M715.62,51.67 V72.41 M714.33,51.67 h2.6 M714.33,72.41 h2.6 M720.5,51.67 V72.41 M719.2,51.67 h2.6 M719.2,72.41 h2.6 M725.38,42.49 V51.13 M724.08,42.49 h2.6 M724.08,51.13 h2.6 M730.25,35.9 V51.02 M728.95,35.9 h2.6 M728.95,51.02 h2.6 M735.12,33.1 V46.49 M733.83,33.1 h2.6 M733.83,46.49 h2.6 M740,30.5 V41.3 M738.7,30.5 h2.6 M738.7,41.3 h2.6 M744.88,28.24 V34.72 M743.58,28.24 h2.6 M743.58,34.72 h2.6 M749.75,25.97 V29.21 M748.45,25.97 h2.6 M748.45,29.21 h2.6" stroke="#d9443c" stroke-width="0.9" fill="none" opacity="0.8"/>
<path d="M603.5,134.4 L608.38,134.4 L613.25,134.4 L618.12,125.87 L623,125.87 L627.88,110.64 L632.75,91.2 L637.62,83.64 L642.5,76.08 L647.38,69.82 L652.25,69.82 L657.12,69.82 L662,69.82 L666.88,66.79 L671.75,65.06 L676.62,63.77 L681.5,62.04 L686.38,62.04 L691.25,62.04 L696.12,62.04 L701,62.04 L705.88,62.04 L710.75,62.04 L715.62,62.04 L720.5,62.04 L725.38,46.81 L730.25,43.46 L735.12,39.79 L740,35.9 L744.88,31.48 L749.75,27.59" stroke="#d9443c" stroke-width="1.0" fill="none" stroke-linejoin="round"/>
<line x1="623" y1="26.4" x2="749.75" y2="26.4" stroke="#000" stroke-width="1" opacity="0.45"/>
<line x1="603.5" y1="26.4" x2="603.5" y2="134.4" stroke="#636363" stroke-width="1" />
<line x1="603.5" y1="134.4" x2="749.75" y2="134.4" stroke="#636363" stroke-width="1" />
<line x1="603.5" y1="134.4" x2="605" y2="134.4" stroke="#636363" stroke-width="1" />
<text x="600.8" y="137.8" font-size="9.6" text-anchor="end" fill="#333333" >0</text>
<line x1="603.5" y1="112.8" x2="605" y2="112.8" stroke="#636363" stroke-width="1" />
<text x="600.8" y="116.2" font-size="9.6" text-anchor="end" fill="#333333" >0.2</text>
<line x1="603.5" y1="91.2" x2="605" y2="91.2" stroke="#636363" stroke-width="1" />
<text x="600.8" y="94.6" font-size="9.6" text-anchor="end" fill="#333333" >0.4</text>
<line x1="603.5" y1="69.6" x2="605" y2="69.6" stroke="#636363" stroke-width="1" />
<text x="600.8" y="73" font-size="9.6" text-anchor="end" fill="#333333" >0.6</text>
<line x1="603.5" y1="48" x2="605" y2="48" stroke="#636363" stroke-width="1" />
<text x="600.8" y="51.4" font-size="9.6" text-anchor="end" fill="#333333" >0.8</text>
<line x1="603.5" y1="26.4" x2="605" y2="26.4" stroke="#636363" stroke-width="1" />
<text x="600.8" y="29.8" font-size="9.6" text-anchor="end" fill="#333333" >1</text>
<line x1="603.5" y1="134.4" x2="603.5" y2="132.9" stroke="#636363" stroke-width="1" />
<text x="603.5" y="146.2" font-size="9.6" text-anchor="middle" fill="#333333" >0</text>
<line x1="652.25" y1="134.4" x2="652.25" y2="132.9" stroke="#636363" stroke-width="1" />
<text x="652.25" y="146.2" font-size="9.6" text-anchor="middle" fill="#333333" >0.5</text>
<line x1="701" y1="134.4" x2="701" y2="132.9" stroke="#636363" stroke-width="1" />
<text x="701" y="146.2" font-size="9.6" text-anchor="middle" fill="#333333" >1</text>
<line x1="749.75" y1="134.4" x2="749.75" y2="132.9" stroke="#636363" stroke-width="1" />
<text x="749.75" y="146.2" font-size="9.6" text-anchor="middle" fill="#333333" >1.5</text>
<text x="676.62" y="157.4" font-size="9.45" text-anchor="middle" fill="#3c3c3c" >Pixel Intensity</text>
<text transform="translate(584,80.45) rotate(-90)" font-size="9.8" text-anchor="middle" fill="#3c3c3c">Cumulative Probability</text>
<text x="665.8" y="85.3" font-size="9.3" fill="#000">p &lt; 0.05 mammo vs</text>
<text x="665.8" y="96.7" font-size="9.3" fill="#000">tumor and benign</text>
<line x1="673.6" y1="103.4" x2="684" y2="103.4" stroke="#111111" stroke-width="1" />
<line x1="678.8" y1="99.4" x2="678.8" y2="107.4" stroke="#111111" stroke-width="1" />
<line x1="677.6" y1="99.4" x2="680" y2="99.4" stroke="#111111" stroke-width="0.8" />
<line x1="677.6" y1="107.4" x2="680" y2="107.4" stroke="#111111" stroke-width="0.8" />
<text x="684.6" y="106.8" font-size="9.55" text-anchor="start" fill="#000" >Mammoplasty</text>
<line x1="673.6" y1="114.5" x2="684" y2="114.5" stroke="#2f98cf" stroke-width="1" />
<line x1="678.8" y1="110.5" x2="678.8" y2="118.5" stroke="#2f98cf" stroke-width="1" />
<line x1="677.6" y1="110.5" x2="680" y2="110.5" stroke="#2f98cf" stroke-width="0.8" />
<line x1="677.6" y1="118.5" x2="680" y2="118.5" stroke="#2f98cf" stroke-width="0.8" />
<text x="684.6" y="117.9" font-size="9.55" text-anchor="start" fill="#000" >Benign</text>
<line x1="673.6" y1="125.2" x2="684" y2="125.2" stroke="#d9443c" stroke-width="1" />
<line x1="678.8" y1="121.2" x2="678.8" y2="129.2" stroke="#d9443c" stroke-width="1" />
<line x1="677.6" y1="121.2" x2="680" y2="121.2" stroke="#d9443c" stroke-width="0.8" />
<line x1="677.6" y1="129.2" x2="680" y2="129.2" stroke="#d9443c" stroke-width="0.8" />
<text x="684.6" y="128.6" font-size="9.55" text-anchor="start" fill="#000" >Tumor</text>
<text x="-0.5" y="10.8" font-size="19.3" font-weight="bold" fill="#000">a</text>
<text x="-1.0" y="177.7" font-size="19.1" font-weight="bold" fill="#000">b</text>
<text x="387.6" y="178" font-size="19.5" font-weight="bold" fill="#000">c</text>
<text x="206.5" y="190.6" font-size="20.3" text-anchor="middle" fill="#000" >All Pixels</text>
<text x="585.35" y="189.8" font-size="20.3" text-anchor="middle" fill="#000" >Top 1% Pixels</text>
<line x1="46.6" y1="217" x2="50" y2="217" stroke="#8a8a8a" stroke-width="0.8" stroke-dasharray="3.8,2.4"/>
<line x1="60" y1="217" x2="71.25" y2="217" stroke="#8a8a8a" stroke-width="0.8" stroke-dasharray="3.8,2.4"/>
<line x1="46.6" y1="212.2" x2="46.6" y2="221.8" stroke="#222" stroke-width="1" />
<line x1="71.25" y1="212.2" x2="71.25" y2="221.8" stroke="#222" stroke-width="1" />
<rect x="50.45" y="207.5" width="9.1" height="19" fill="none" stroke="#5561a8" stroke-width="1"/>
<line x1="53.5" y1="207.5" x2="53.5" y2="226.5" stroke="#d4473d" stroke-width="1" />
<circle cx="74.6" cy="217" r="1.1" fill="#e23a3a"/>
<circle cx="122.8" cy="217" r="1.1" fill="#e23a3a"/>
<line x1="46.7" y1="261" x2="49.3" y2="261" stroke="#333" stroke-width="0.8" stroke-dasharray="3.8,2.4"/>
<line x1="59.6" y1="261" x2="62.8" y2="261" stroke="#333" stroke-width="0.8" stroke-dasharray="3.8,2.4"/>
<line x1="46.7" y1="256.2" x2="46.7" y2="265.8" stroke="#222" stroke-width="1" />
<line x1="62.8" y1="256.2" x2="62.8" y2="265.8" stroke="#222" stroke-width="1" />
<rect x="49.75" y="251.5" width="9.4" height="19" fill="none" stroke="#5561a8" stroke-width="1"/>
<line x1="54" y1="251.5" x2="54" y2="270.5" stroke="#d4473d" stroke-width="1" />
<line x1="46" y1="304.5" x2="46.6" y2="304.5" stroke="#333" stroke-width="0.8" stroke-dasharray="3.8,2.4"/>
<line x1="48.4" y1="304.5" x2="49" y2="304.5" stroke="#333" stroke-width="0.8" stroke-dasharray="3.8,2.4"/>
<line x1="46" y1="299.7" x2="46" y2="309.3" stroke="#222" stroke-width="1" />
<line x1="49" y1="299.7" x2="49" y2="309.3" stroke="#222" stroke-width="1" />
<rect x="47.05" y="295" width="0.9" height="19" fill="none" stroke="#5561a8" stroke-width="1"/>
<line x1="47.3" y1="295" x2="47.3" y2="314" stroke="#d4473d" stroke-width="1" />
<circle cx="43" cy="304.5" r="1.1" fill="#e23a3a"/>
<line x1="72.8" y1="260.5" x2="72.8" y2="307.8" stroke="#111" stroke-width="1.6" />
<text x="78.3" y="291.4" font-size="13.5" text-anchor="middle" fill="#111" >*</text>
<line x1="91.7" y1="218" x2="91.7" y2="307.8" stroke="#111" stroke-width="1.6" />
<text x="97.3" y="268.1" font-size="13.5" text-anchor="middle" fill="#111" >*</text>
<line x1="39.4" y1="195" x2="39.4" y2="326.3" stroke="#636363" stroke-width="1" />
<line x1="39.4" y1="326.3" x2="127.2" y2="326.3" stroke="#636363" stroke-width="1" />
<line x1="39.4" y1="217" x2="40.9" y2="217" stroke="#636363" stroke-width="1" />
<text x="36.2" y="221" font-size="11.2" text-anchor="end" fill="#444" >T</text>
<line x1="39.4" y1="261" x2="40.9" y2="261" stroke="#636363" stroke-width="1" />
<text x="36.2" y="265" font-size="11.2" text-anchor="end" fill="#444" >B</text>
<line x1="39.4" y1="304.5" x2="40.9" y2="304.5" stroke="#636363" stroke-width="1" />
<text x="36.2" y="308.5" font-size="11.2" text-anchor="end" fill="#444" >M</text>
<line x1="41.2" y1="326.3" x2="41.2" y2="324.8" stroke="#636363" stroke-width="1" />
<text x="41.2" y="339.6" font-size="11.2" text-anchor="middle" fill="#333333" >0</text>
<line x1="60.1" y1="326.3" x2="60.1" y2="324.8" stroke="#636363" stroke-width="1" />
<text x="60.1" y="339.6" font-size="11.2" text-anchor="middle" fill="#333333" >0.2</text>
<line x1="79" y1="326.3" x2="79" y2="324.8" stroke="#636363" stroke-width="1" />
<text x="79" y="339.6" font-size="11.2" text-anchor="middle" fill="#333333" >0.4</text>
<line x1="97.9" y1="326.3" x2="97.9" y2="324.8" stroke="#636363" stroke-width="1" />
<text x="97.9" y="339.6" font-size="11.2" text-anchor="middle" fill="#333333" >0.6</text>
<line x1="116.8" y1="326.3" x2="116.8" y2="324.8" stroke="#636363" stroke-width="1" />
<text x="116.8" y="339.6" font-size="11.2" text-anchor="middle" fill="#333333" >0.8</text>
<text x="83.3" y="354.3" font-size="11" text-anchor="middle" fill="#3c3c3c" font-style="italic">μ</text>
<line x1="174.4" y1="222.3" x2="175.6" y2="222.3" stroke="#333" stroke-width="0.8" stroke-dasharray="3.8,2.4"/>
<line x1="204.75" y1="222.3" x2="246.4" y2="222.3" stroke="#333" stroke-width="0.8" stroke-dasharray="3.8,2.4"/>
<line x1="174.4" y1="217.5" x2="174.4" y2="227.1" stroke="#222" stroke-width="1" />
<line x1="246.4" y1="217.5" x2="246.4" y2="227.1" stroke="#222" stroke-width="1" />
<rect x="176.05" y="212.8" width="28.25" height="19" fill="none" stroke="#5561a8" stroke-width="1"/>
<line x1="176.25" y1="212.8" x2="176.25" y2="231.8" stroke="#d4473d" stroke-width="1" />
<line x1="188.9" y1="265.3" x2="204.5" y2="265.3" stroke="#333" stroke-width="0.8" stroke-dasharray="3.8,2.4"/>
<line x1="204.5" y1="260.5" x2="204.5" y2="270.1" stroke="#222" stroke-width="1" />
<rect x="175.35" y="255.8" width="13.1" height="19" fill="none" stroke="#5561a8" stroke-width="1"/>
<line x1="176.1" y1="255.8" x2="176.1" y2="274.8" stroke="#d4473d" stroke-width="1" />
<line x1="174.2" y1="298.5" x2="174.2" y2="317.5" stroke="#d4473d" stroke-width="1" />
<line x1="238.2" y1="267" x2="238.2" y2="313.7" stroke="#111" stroke-width="1.6" />
<text x="243.3" y="296.1" font-size="13.5" text-anchor="middle" fill="#111" >*</text>
<line x1="256.9" y1="222.8" x2="256.9" y2="312.9" stroke="#111" stroke-width="1.6" />
<text x="261.8" y="273.1" font-size="13.5" text-anchor="middle" fill="#111" >*</text>
<line x1="163.4" y1="201" x2="163.4" y2="328.6" stroke="#636363" stroke-width="1" />
<line x1="163.4" y1="328.6" x2="250.8" y2="328.6" stroke="#636363" stroke-width="1" />
<line x1="163.4" y1="222.3" x2="164.9" y2="222.3" stroke="#636363" stroke-width="1" />
<text x="160.2" y="226.3" font-size="11.2" text-anchor="end" fill="#444" >T</text>
<line x1="163.4" y1="265.3" x2="164.9" y2="265.3" stroke="#636363" stroke-width="1" />
<text x="160.2" y="269.3" font-size="11.2" text-anchor="end" fill="#444" >B</text>
<line x1="163.4" y1="308" x2="164.9" y2="308" stroke="#636363" stroke-width="1" />
<text x="160.2" y="312" font-size="11.2" text-anchor="end" fill="#444" >M</text>
<line x1="174" y1="328.6" x2="174" y2="327.1" stroke="#636363" stroke-width="1" />
<text x="174" y="342.6" font-size="11.2" text-anchor="middle" fill="#333333" >0</text>
<line x1="201.3" y1="328.6" x2="201.3" y2="327.1" stroke="#636363" stroke-width="1" />
<text x="201.3" y="342.6" font-size="11.2" text-anchor="middle" fill="#333333" >0.05</text>
<line x1="228.6" y1="328.6" x2="228.6" y2="327.1" stroke="#636363" stroke-width="1" />
<text x="228.6" y="342.6" font-size="11.2" text-anchor="middle" fill="#333333" >0.1</text>
<text x="201" y="359.3" font-size="11.5" fill="#3c3c3c"><tspan font-style="italic">σ</tspan><tspan dx="0.4" dy="-5.6" font-size="9">2</tspan></text>
<line x1="293" y1="217" x2="293.6" y2="217" stroke="#8a8a8a" stroke-width="0.8" stroke-dasharray="3.8,2.4"/>
<line x1="310.8" y1="217" x2="331.7" y2="217" stroke="#8a8a8a" stroke-width="0.8" stroke-dasharray="3.8,2.4"/>
<line x1="293" y1="212.2" x2="293" y2="221.8" stroke="#222" stroke-width="1" />
<line x1="331.7" y1="212.2" x2="331.7" y2="221.8" stroke="#222" stroke-width="1" />
<rect x="294.05" y="207.5" width="16.3" height="19" fill="none" stroke="#5561a8" stroke-width="1"/>
<line x1="299.2" y1="207.5" x2="299.2" y2="226.5" stroke="#d4473d" stroke-width="1" />
<circle cx="343.6" cy="217" r="1.1" fill="#e23a3a"/>
<circle cx="348.3" cy="217" r="1.1" fill="#e23a3a"/>
<circle cx="372" cy="217" r="1.1" fill="#e23a3a"/>
<line x1="293" y1="260.6" x2="293.6" y2="260.6" stroke="#333" stroke-width="0.8" stroke-dasharray="3.8,2.4"/>
<line x1="293" y1="255.8" x2="293" y2="265.4" stroke="#222" stroke-width="1" />
<rect x="294.05" y="251.1" width="4.9" height="19" fill="none" stroke="#5561a8" stroke-width="1"/>
<line x1="295" y1="251.1" x2="295" y2="270.1" stroke="#d4473d" stroke-width="1" />
<circle cx="307" cy="260.6" r="1.1" fill="#e23a3a"/>
<line x1="299.2" y1="304.4" x2="300.3" y2="304.4" stroke="#333" stroke-width="0.8" stroke-dasharray="3.8,2.4"/>
<line x1="300.3" y1="299.6" x2="300.3" y2="309.2" stroke="#222" stroke-width="1" />
<rect x="294.85" y="294.9" width="3.9" height="19" fill="none" stroke="#5561a8" stroke-width="1"/>
<line x1="295.8" y1="294.9" x2="295.8" y2="313.9" stroke="#d4473d" stroke-width="1" />
<line x1="288.9" y1="195.3" x2="288.9" y2="326.3" stroke="#636363" stroke-width="1" />
<line x1="288.9" y1="326.3" x2="376.4" y2="326.3" stroke="#636363" stroke-width="1" />
<line x1="288.9" y1="217" x2="290.4" y2="217" stroke="#636363" stroke-width="1" />
<text x="285.7" y="221" font-size="11.2" text-anchor="end" fill="#444" >T</text>
<line x1="288.9" y1="260.6" x2="290.4" y2="260.6" stroke="#636363" stroke-width="1" />
<text x="285.7" y="264.6" font-size="11.2" text-anchor="end" fill="#444" >B</text>
<line x1="288.9" y1="304.4" x2="290.4" y2="304.4" stroke="#636363" stroke-width="1" />
<text x="285.7" y="308.4" font-size="11.2" text-anchor="end" fill="#444" >M</text>
<line x1="293" y1="326.3" x2="293" y2="324.8" stroke="#636363" stroke-width="1" />
<text x="293" y="340" font-size="11.2" text-anchor="middle" fill="#333333" >0</text>
<line x1="321" y1="326.3" x2="321" y2="324.8" stroke="#636363" stroke-width="1" />
<line x1="349" y1="326.3" x2="349" y2="324.8" stroke="#636363" stroke-width="1" />
<text x="349" y="340" font-size="11.2" text-anchor="middle" fill="#333333" >10000</text>
<text x="332.5" y="352.8" font-size="11.0" text-anchor="middle" fill="#3c3c3c" >Max:Min</text>
<line x1="421.7" y1="219.5" x2="428.6" y2="219.5" stroke="#333" stroke-width="0.8" stroke-dasharray="3.8,2.4"/>
<line x1="485.6" y1="219.5" x2="497.2" y2="219.5" stroke="#333" stroke-width="0.8" stroke-dasharray="3.8,2.4"/>
<line x1="421.7" y1="214.7" x2="421.7" y2="224.3" stroke="#222" stroke-width="1" />
<line x1="497.2" y1="214.7" x2="497.2" y2="224.3" stroke="#222" stroke-width="1" />
<rect x="429.05" y="210" width="56.1" height="19" fill="none" stroke="#5561a8" stroke-width="1"/>
<line x1="435" y1="210" x2="435" y2="229" stroke="#d4473d" stroke-width="1" />
<line x1="425.9" y1="263.8" x2="430.5" y2="263.8" stroke="#333" stroke-width="0.8" stroke-dasharray="3.8,2.4"/>
<line x1="451.3" y1="263.8" x2="474.8" y2="263.8" stroke="#333" stroke-width="0.8" stroke-dasharray="3.8,2.4"/>
<line x1="425.9" y1="259" x2="425.9" y2="268.6" stroke="#222" stroke-width="1" />
<line x1="474.8" y1="259" x2="474.8" y2="268.6" stroke="#222" stroke-width="1" />
<rect x="430.95" y="254.3" width="19.9" height="19" fill="none" stroke="#5561a8" stroke-width="1"/>
<line x1="435" y1="254.3" x2="435" y2="273.3" stroke="#d4473d" stroke-width="1" />
<circle cx="482.4" cy="263.8" r="1.1" fill="#e23a3a"/>
<line x1="418.5" y1="307.5" x2="419.8" y2="307.5" stroke="#333" stroke-width="0.8" stroke-dasharray="3.8,2.4"/>
<line x1="425.3" y1="307.5" x2="426" y2="307.5" stroke="#333" stroke-width="0.8" stroke-dasharray="3.8,2.4"/>
<line x1="418.5" y1="302.7" x2="418.5" y2="312.3" stroke="#222" stroke-width="1" />
<line x1="426" y1="302.7" x2="426" y2="312.3" stroke="#222" stroke-width="1" />
<rect x="420.25" y="298" width="4.6" height="19" fill="none" stroke="#5561a8" stroke-width="1"/>
<line x1="421.5" y1="298" x2="421.5" y2="317" stroke="#d4473d" stroke-width="1" />
<line x1="487.6" y1="263.8" x2="487.6" y2="311.2" stroke="#111" stroke-width="1.6" />
<text x="493.3" y="294.3" font-size="13.5" text-anchor="middle" fill="#111" >*</text>
<line x1="506.3" y1="221.7" x2="506.3" y2="311.2" stroke="#111" stroke-width="1.6" />
<text x="511.5" y="271.3" font-size="13.5" text-anchor="middle" fill="#111" >*</text>
<line x1="413.7" y1="197.5" x2="413.7" y2="329.9" stroke="#636363" stroke-width="1" />
<line x1="413.7" y1="329.9" x2="501.8" y2="329.9" stroke="#636363" stroke-width="1" />
<line x1="413.7" y1="219.5" x2="415.2" y2="219.5" stroke="#636363" stroke-width="1" />
<text x="410.5" y="223.5" font-size="11.2" text-anchor="end" fill="#444" >T</text>
<line x1="413.7" y1="263.8" x2="415.2" y2="263.8" stroke="#636363" stroke-width="1" />
<text x="410.5" y="267.8" font-size="11.2" text-anchor="end" fill="#444" >B</text>
<line x1="413.7" y1="307.5" x2="415.2" y2="307.5" stroke="#636363" stroke-width="1" />
<text x="410.5" y="311.5" font-size="11.2" text-anchor="end" fill="#444" >M</text>
<line x1="414.9" y1="329.9" x2="414.9" y2="328.4" stroke="#636363" stroke-width="1" />
<text x="414.9" y="343.6" font-size="11.2" text-anchor="middle" fill="#333333" >0</text>
<line x1="442.7" y1="329.9" x2="442.7" y2="328.4" stroke="#636363" stroke-width="1" />
<text x="442.7" y="343.6" font-size="11.2" text-anchor="middle" fill="#333333" >0.5</text>
<line x1="470.5" y1="329.9" x2="470.5" y2="328.4" stroke="#636363" stroke-width="1" />
<text x="470.5" y="343.6" font-size="11.2" text-anchor="middle" fill="#333333" >1</text>
<line x1="498.3" y1="329.9" x2="498.3" y2="328.4" stroke="#636363" stroke-width="1" />
<text x="498.3" y="343.6" font-size="11.2" text-anchor="middle" fill="#333333" >1.5</text>
<text x="457.7" y="358" font-size="11" text-anchor="middle" fill="#3c3c3c" font-style="italic">μ</text>
<line x1="544.4" y1="222.5" x2="545.8" y2="222.5" stroke="#333" stroke-width="0.8" stroke-dasharray="3.8,2.4"/>
<line x1="554.2" y1="222.5" x2="564.4" y2="222.5" stroke="#333" stroke-width="0.8" stroke-dasharray="3.8,2.4"/>
<line x1="544.4" y1="217.7" x2="544.4" y2="227.3" stroke="#222" stroke-width="1" />
<line x1="564.4" y1="217.7" x2="564.4" y2="227.3" stroke="#222" stroke-width="1" />
<rect x="546.25" y="213" width="7.5" height="19" fill="none" stroke="#5561a8" stroke-width="1"/>
<line x1="546.7" y1="213" x2="546.7" y2="232" stroke="#d4473d" stroke-width="1" />
<circle cx="569.4" cy="222.5" r="1.1" fill="#e23a3a"/>
<circle cx="571.7" cy="222.5" r="1.1" fill="#e23a3a"/>
<circle cx="583.3" cy="222.5" r="1.1" fill="#e23a3a"/>
<circle cx="622.2" cy="222.5" r="1.1" fill="#e23a3a"/>
<rect x="544.75" y="255.8" width="3.7" height="19" fill="none" stroke="#5561a8" stroke-width="1"/>
<line x1="545.9" y1="255.8" x2="545.9" y2="274.8" stroke="#d4473d" stroke-width="1" />
<circle cx="556.6" cy="265.3" r="1.1" fill="#e23a3a"/>
<circle cx="559.6" cy="265.3" r="1.1" fill="#e23a3a"/>
<rect x="545.45" y="298" width="0.3" height="19" fill="none" stroke="#5561a8" stroke-width="1"/>
<line x1="545.2" y1="298" x2="545.2" y2="317" stroke="#d4473d" stroke-width="1" />
<line x1="592.8" y1="223.3" x2="592.8" y2="312.7" stroke="#111" stroke-width="1.6" />
<text x="596.9" y="273.4" font-size="13.5" text-anchor="middle" fill="#111" >*</text>
<line x1="539.8" y1="201.7" x2="539.8" y2="328.9" stroke="#636363" stroke-width="1" />
<line x1="539.8" y1="328.9" x2="626.9" y2="328.9" stroke="#636363" stroke-width="1" />
<line x1="539.8" y1="222.5" x2="541.3" y2="222.5" stroke="#636363" stroke-width="1" />
<text x="536.6" y="226.5" font-size="11.2" text-anchor="end" fill="#444" >T</text>
<line x1="539.8" y1="265.3" x2="541.3" y2="265.3" stroke="#636363" stroke-width="1" />
<text x="536.6" y="269.3" font-size="11.2" text-anchor="end" fill="#444" >B</text>
<line x1="539.8" y1="307.5" x2="541.3" y2="307.5" stroke="#636363" stroke-width="1" />
<text x="536.6" y="311.5" font-size="11.2" text-anchor="end" fill="#444" >M</text>
<line x1="545.3" y1="328.9" x2="545.3" y2="327.4" stroke="#636363" stroke-width="1" />
<text x="545.3" y="342.5" font-size="10.0" text-anchor="middle" fill="#333333" >0</text>
<line x1="565.3" y1="328.9" x2="565.3" y2="327.4" stroke="#636363" stroke-width="1" />
<text x="565.3" y="342.5" font-size="10.0" text-anchor="middle" fill="#333333" >2</text>
<line x1="585.3" y1="328.9" x2="585.3" y2="327.4" stroke="#636363" stroke-width="1" />
<text x="585.3" y="342.5" font-size="10.0" text-anchor="middle" fill="#333333" >4</text>
<line x1="605.3" y1="328.9" x2="605.3" y2="327.4" stroke="#636363" stroke-width="1" />
<text x="605.3" y="342.5" font-size="10.0" text-anchor="middle" fill="#333333" >6</text>
<line x1="625.3" y1="328.9" x2="625.3" y2="327.4" stroke="#636363" stroke-width="1" />
<text x="625.3" y="342.5" font-size="10.0" text-anchor="middle" fill="#333333" >8</text>
<text x="577.3" y="358.6" font-size="11.5" fill="#3c3c3c"><tspan font-style="italic">σ</tspan><tspan dx="0.4" dy="-5.6" font-size="9">2</tspan></text>
<text x="597.9" y="358.4" font-size="11.5" fill="#3c3c3c">×</text>
<text x="605.3" y="358.9" font-size="11" fill="#3c3c3c">10</text>
<text x="618.6" y="353.6" font-size="9.4" fill="#3c3c3c">-3</text>
<line x1="678" y1="223.3" x2="682.8" y2="223.3" stroke="#333" stroke-width="0.8" stroke-dasharray="3.8,2.4"/>
<line x1="698.3" y1="223.3" x2="714.7" y2="223.3" stroke="#333" stroke-width="0.8" stroke-dasharray="3.8,2.4"/>
<line x1="678" y1="218.5" x2="678" y2="228.1" stroke="#222" stroke-width="1" />
<line x1="714.7" y1="218.5" x2="714.7" y2="228.1" stroke="#222" stroke-width="1" />
<rect x="683.25" y="213.8" width="14.6" height="19" fill="none" stroke="#5561a8" stroke-width="1"/>
<line x1="690.6" y1="213.8" x2="690.6" y2="232.8" stroke="#d4473d" stroke-width="1" />
<circle cx="730.8" cy="223.3" r="1.1" fill="#e23a3a"/>
<line x1="675.9" y1="266.8" x2="679.5" y2="266.8" stroke="#333" stroke-width="0.8" stroke-dasharray="3.8,2.4"/>
<line x1="675.9" y1="262" x2="675.9" y2="271.6" stroke="#222" stroke-width="1" />
<rect x="679.95" y="257.3" width="14.4" height="19" fill="none" stroke="#5561a8" stroke-width="1"/>
<line x1="687.5" y1="257.3" x2="687.5" y2="276.3" stroke="#d4473d" stroke-width="1" />
<circle cx="729.4" cy="266.8" r="1.1" fill="#e23a3a"/>
<line x1="667.3" y1="311.2" x2="695.1" y2="311.2" stroke="#333" stroke-width="0.8" stroke-dasharray="3.8,2.4"/>
<line x1="720.8" y1="311.2" x2="746.8" y2="311.2" stroke="#333" stroke-width="0.8" stroke-dasharray="3.8,2.4"/>
<line x1="667.3" y1="306.4" x2="667.3" y2="316" stroke="#222" stroke-width="1" />
<line x1="746.8" y1="306.4" x2="746.8" y2="316" stroke="#222" stroke-width="1" />
<rect x="695.55" y="301.7" width="24.8" height="19" fill="none" stroke="#5561a8" stroke-width="1"/>
<line x1="701.3" y1="301.7" x2="701.3" y2="320.7" stroke="#d4473d" stroke-width="1" />
<line x1="663.8" y1="201.7" x2="663.8" y2="332.6" stroke="#636363" stroke-width="1" />
<line x1="663.8" y1="332.6" x2="750.6" y2="332.6" stroke="#636363" stroke-width="1" />
<line x1="663.8" y1="223.3" x2="665.3" y2="223.3" stroke="#636363" stroke-width="1" />
<text x="660.6" y="227.3" font-size="11.2" text-anchor="end" fill="#444" >T</text>
<line x1="663.8" y1="266.8" x2="665.3" y2="266.8" stroke="#636363" stroke-width="1" />
<text x="660.6" y="270.8" font-size="11.2" text-anchor="end" fill="#444" >B</text>
<line x1="663.8" y1="311.2" x2="665.3" y2="311.2" stroke="#636363" stroke-width="1" />
<text x="660.6" y="315.2" font-size="11.2" text-anchor="end" fill="#444" >M</text>
<line x1="695.4" y1="332.6" x2="695.4" y2="331.1" stroke="#636363" stroke-width="1" />
<text x="695.4" y="346.4" font-size="11.2" text-anchor="middle" fill="#333333" >1.2</text>
<line x1="732.4" y1="332.6" x2="732.4" y2="331.1" stroke="#636363" stroke-width="1" />
<text x="732.4" y="346.4" font-size="11.2" text-anchor="middle" fill="#333333" >1.4</text>
<text x="706.5" y="359.4" font-size="11.0" text-anchor="middle" fill="#3c3c3c" >Max:Min</text>
</g>
</svg>
</body></html>
